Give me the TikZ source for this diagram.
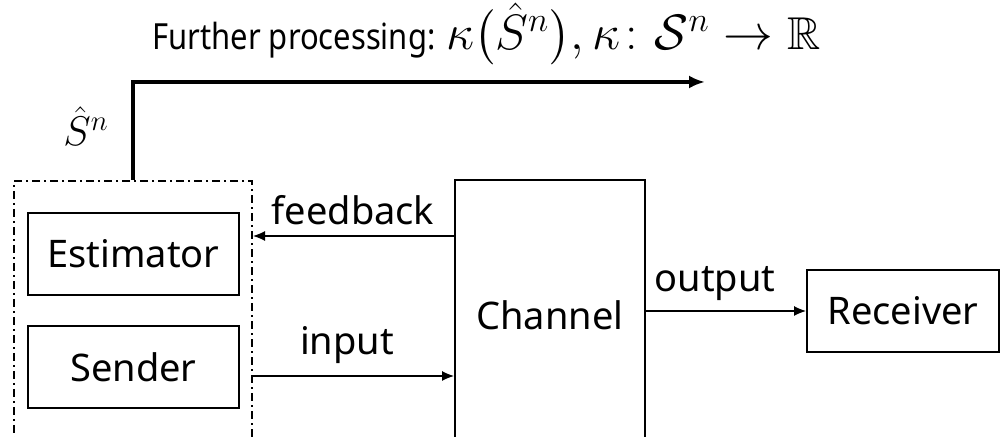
\documentclass[tikz,border=0pt]{standalone}
\usepackage{amsmath,amssymb}
\usepackage{fontspec}
\setmainfont{Noto Sans}
\newfontfamily\titlefont[FakeStretch=0.86]{Noto Sans}
\usetikzlibrary{arrows.meta}
\tikzset{
  box/.style={draw, line width=1pt, minimum width=105.5pt, minimum height=41pt, inner sep=0pt},
  lbl/.style={inner sep=0pt, font=\fontsize{19}{22}\selectfont},
  conn/.style={line width=0.6pt, -{Latex[length=6pt,width=5pt]}},
  mainarrow/.style={line width=1.6pt, -{Latex[length=8pt,width=6.5pt]}},
  groupbox/.style={draw, line width=1pt, dash pattern=on 4pt off 2pt on 1pt off 2pt, minimum width=119pt, minimum height=144pt, inner sep=0pt},
}
\begin{document}
\begin{tikzpicture}[x=0.5pt,y=-0.5pt]
\useasboundingbox (0,0) rectangle (1000,437);
\clip (0,0) rectangle (1000,437);
% group (dash-dot) box
\node[groupbox] (group) at (133,325) {};
\node[box, font=\fontsize{19}{22}\selectfont] (est) at (133.5,254) {Estimator};
\node[box, font=\fontsize{19}{22}\selectfont] (send) at (133.5,367.5) {Sender};
\node[draw, line width=1pt, minimum width=95pt, minimum height=135pt, inner sep=0pt, font=\fontsize{19}{22}\selectfont] (chan) at (550,315) {Channel};
\node[box, minimum width=96pt, font=\fontsize{19}{22}\selectfont] (recv) at (903,311) {Receiver};
% coordinates
\coordinate (fb) at (0,236);
\coordinate (inp) at (0,376);
\coordinate (proc) at (705,82);
% connectors
\draw[conn] (fb -| chan.west) -- (fb -| group.east);
\draw[conn] (inp -| group.east) -- (inp -| chan.west);
\draw[conn] (recv.west -| chan.east) -- (recv.west);
\draw[mainarrow] (group.north) |- (proc);
% labels
\node[lbl] (fblbl) at (353,210) {feedback};
\node[lbl] (inlbl) at (347,345) {input};
\node[lbl] (outlbl) at (715,284) {output};
\node[inner sep=0pt, font=\fontsize{22}{24}\selectfont] (shat) at (86,126) {$\hat{S}^n$};
\node[inner sep=0pt, anchor=base west, font=\titlefont\fontsize{18}{22}\selectfont] (title) at (152,50) {Further processing: {\fontsize{23}{26}\selectfont$\kappa\bigl(\hat{S}^n\bigr), \kappa\colon \mathcal{S}^n \to \mathbb{R}$}};
\end{tikzpicture}
\end{document}
